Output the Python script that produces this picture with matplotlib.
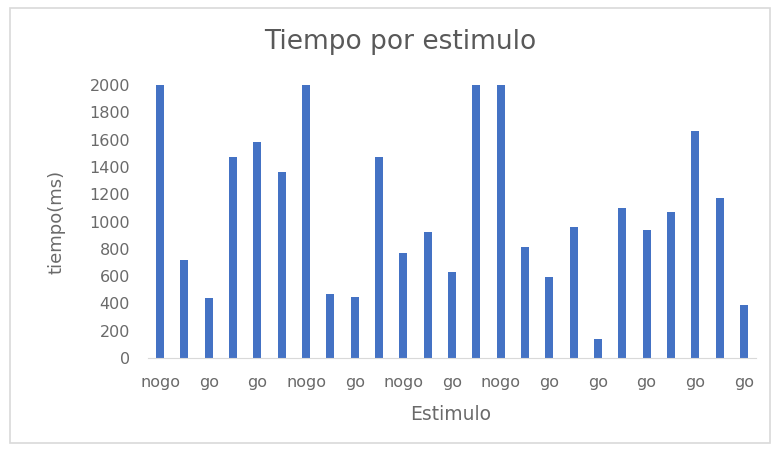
import matplotlib
matplotlib.use("Agg")
import matplotlib.pyplot as plt
from matplotlib.patches import Rectangle

values = [2000, 720, 440, 1470, 1580, 1360, 2000, 470, 450, 1470, 770, 920, 630,
          2000, 2000, 810, 590, 960, 140, 1100, 940, 1070, 1660, 1170, 390]
tick_labels = ["nogo", "go", "go", "nogo", "go", "nogo", "go", "nogo", "go", "go", "go", "go", "go"]
yticks = [0, 200, 400, 600, 800, 1000, 1200, 1400, 1600, 1800, 2000]

plt.rcParams['font.family'] = ['DejaVu Sans']
gray = "#595959"
tgray = "#6a6a6a"
W, H = 775, 451

fig = plt.figure(figsize=(7.75, 4.51), dpi=100)
fig.patches.append(Rectangle((10/W, 8/H), 760/W, 435/H, transform=fig.transFigure,
                             fill=False, edgecolor="#d9d9d9", linewidth=1.2))
ax = fig.add_axes([148/W, 1 - 358/H, 608/W, 273/H])
x = list(range(len(values)))
ax.bar(x, values, width=0.33, color="#4472C4")
ax.set_xlim(-0.5, len(values) - 0.5)
ax.set_ylim(0, 2000)
ax.set_yticks(yticks)
ax.set_yticklabels([str(v) for v in yticks], fontsize=11.5, color=tgray)
ax.set_xticks(x[::2])
ax.set_xticklabels(tick_labels, fontsize=11.5, color=tgray)
ax.tick_params(axis='both', length=0)
ax.tick_params(axis='x', pad=12)
ax.tick_params(axis='y', pad=13)
for s in ["top", "right", "left"]:
    ax.spines[s].set_visible(False)
ax.spines["bottom"].set_color("#d9d9d9")

fig.text(400/W, 1 - 42/H, "Tiempo por estimulo", fontsize=19, color=gray,
         ha="center", va="center")
fig.text(451/W, 1 - 414/H, "Estimulo", fontsize=13.5, color=tgray,
         ha="center", va="center")
fig.text(56/W, 1 - 222/H, "tiempo(ms)", fontsize=13, color=tgray,
         ha="center", va="center", rotation=90)
fig.savefig("out.png", dpi=100)
